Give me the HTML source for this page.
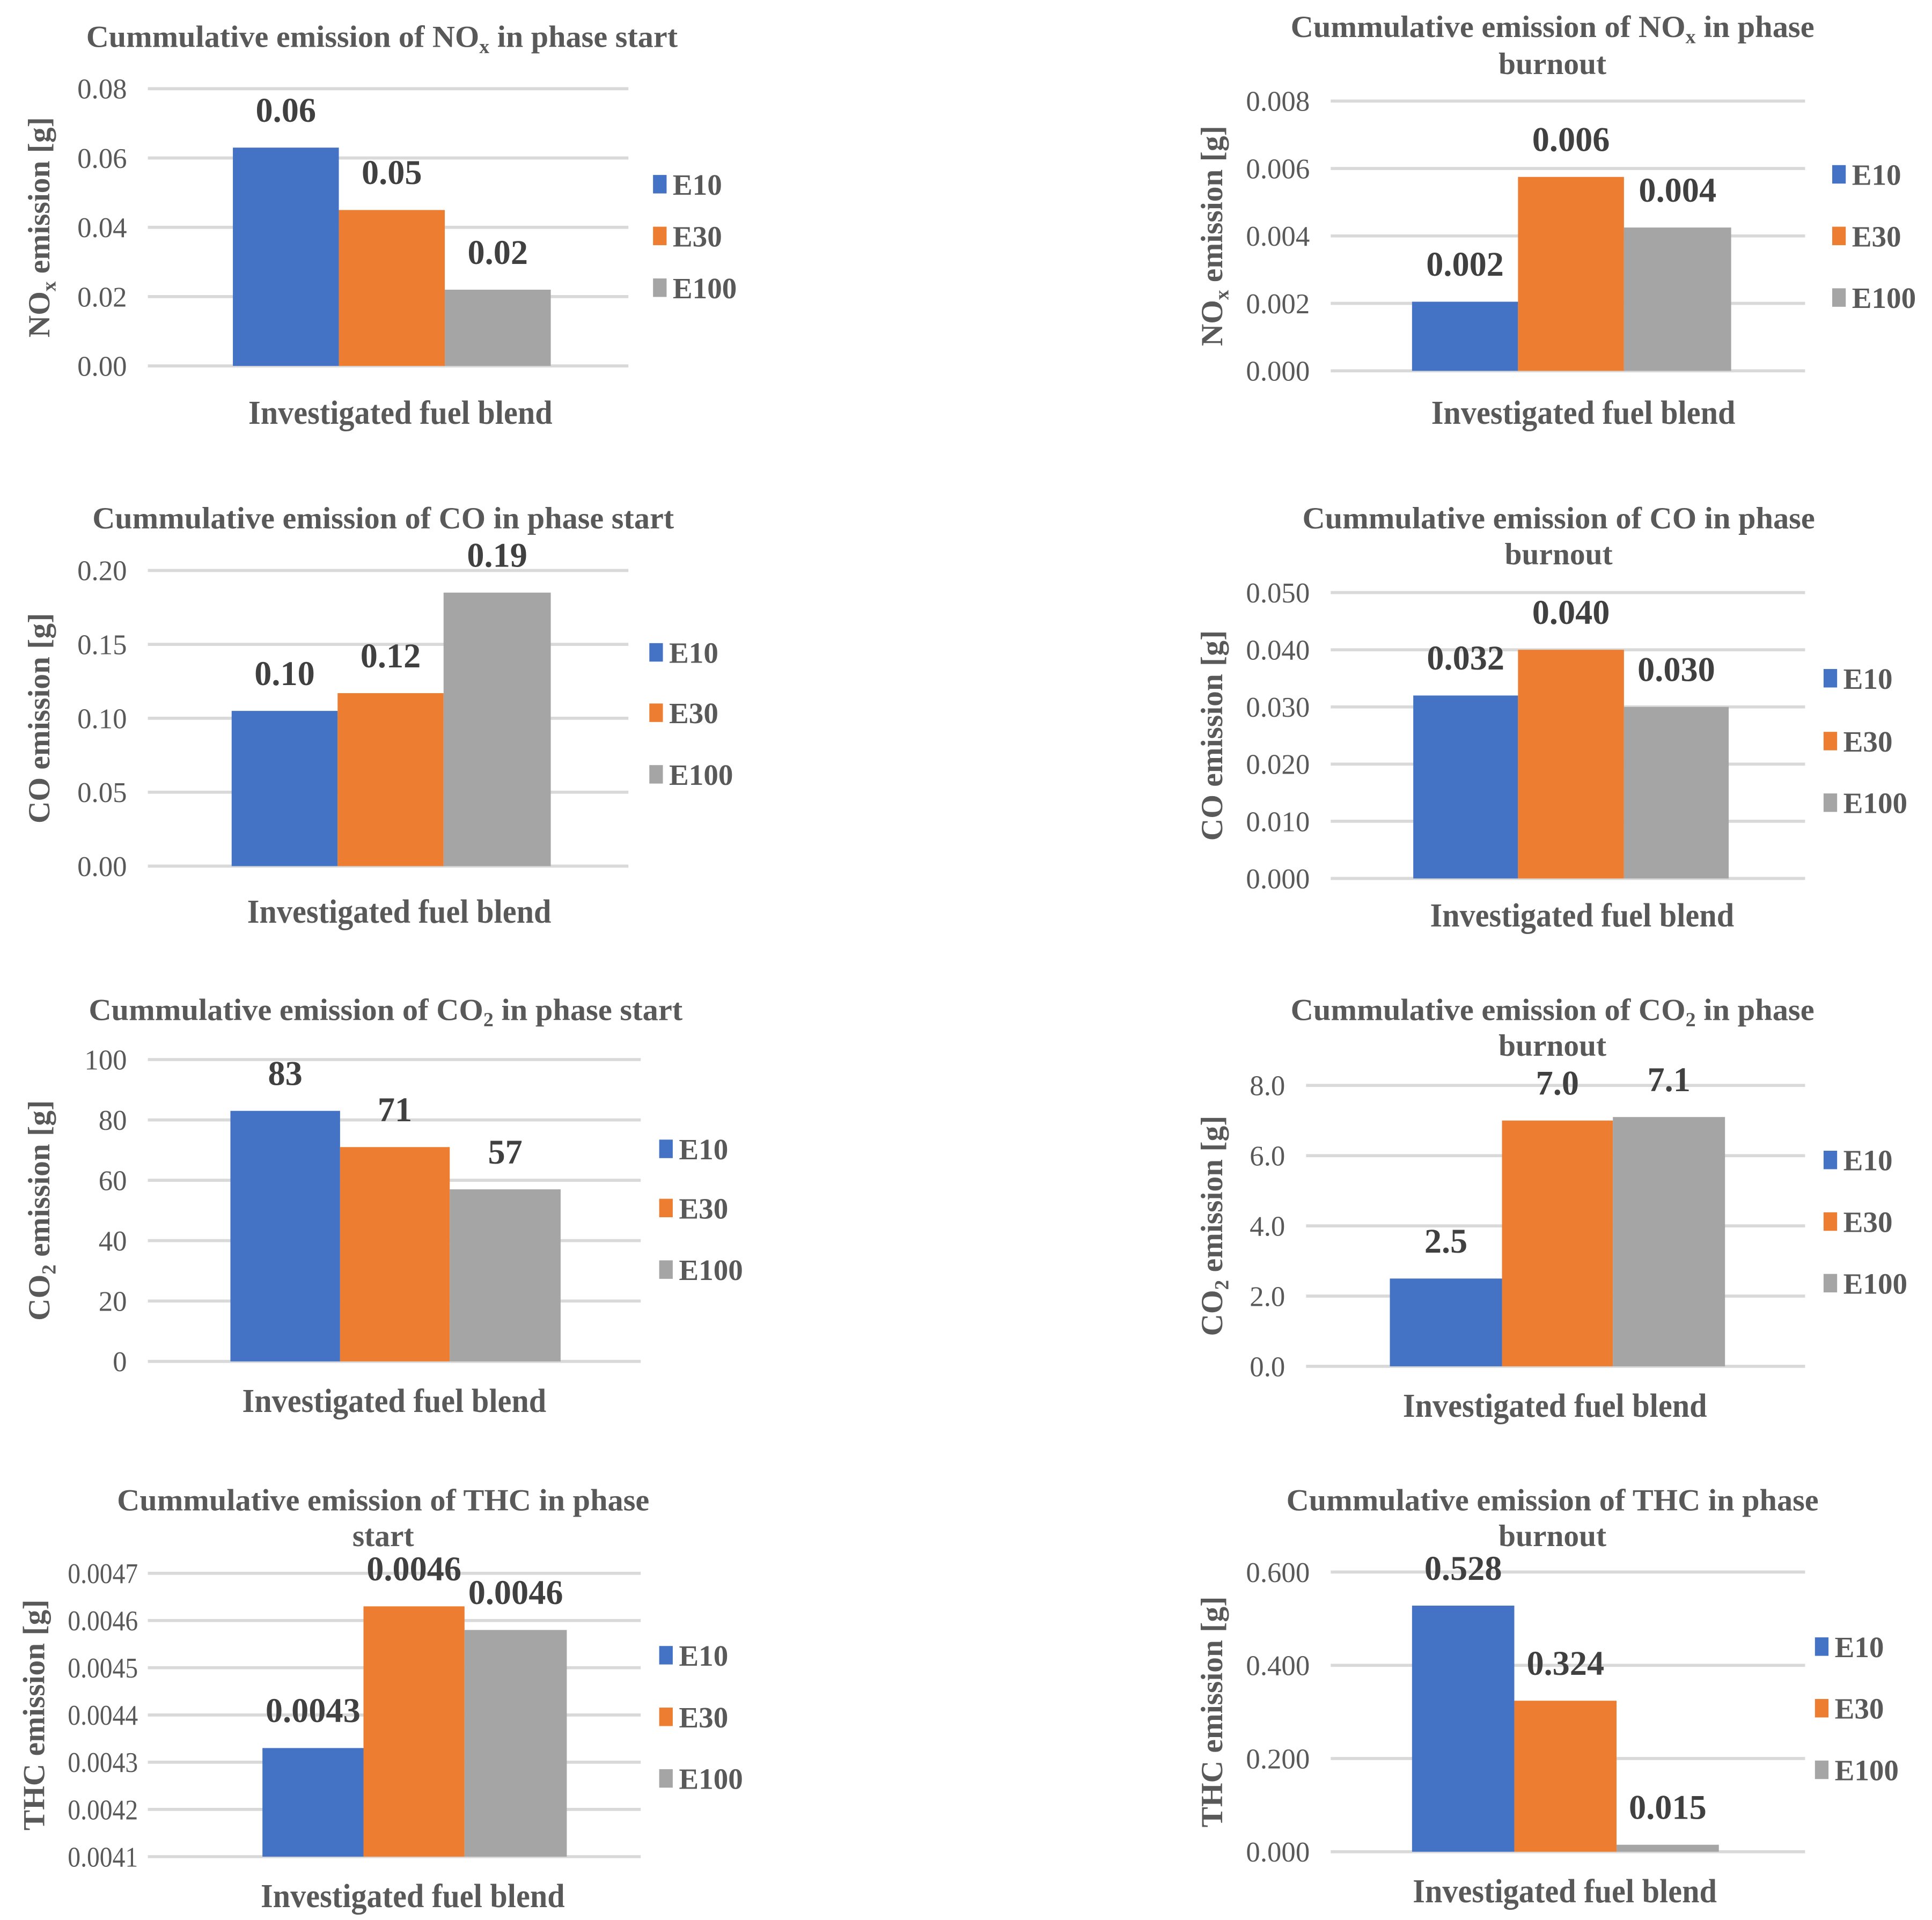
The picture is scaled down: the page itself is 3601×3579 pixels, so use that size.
<!DOCTYPE html>
<html><head><meta charset="utf-8"><style>
html,body{margin:0;padding:0;background:#fff;}
svg{display:block;}
</style></head><body>
<svg id="root" xmlns="http://www.w3.org/2000/svg" width="3601" height="3579" viewBox="0 0 1568 1558.4" font-family="'Liberation Serif', serif"></svg>
<script>
const series = ["E10","E30","E100"];
const colors = ["#4472C4","#ED7D31","#A5A5A5"];
const noxStartValues = [0.063,0.045,0.022];
const noxStartLabels = ["0.06","0.05","0.02"];
const noxStartTicks = ["0.00","0.02","0.04","0.06","0.08"];
const noxBurnValues = [0.00205,0.00575,0.00425];
const noxBurnLabels = ["0.002","0.006","0.004"];
const noxBurnTicks = ["0.000","0.002","0.004","0.006","0.008"];
const coStartValues = [0.105,0.117,0.185];
const coStartLabels = ["0.10","0.12","0.19"];
const coStartTicks = ["0.00","0.05","0.10","0.15","0.20"];
const coBurnValues = [0.032,0.040,0.030];
const coBurnLabels = ["0.032","0.040","0.030"];
const coBurnTicks = ["0.000","0.010","0.020","0.030","0.040","0.050"];
const co2StartValues = [83,71,57];
const co2StartLabels = ["83","71","57"];
const co2StartTicks = ["0","20","40","60","80","100"];
const co2BurnValues = [2.5,7.0,7.1];
const co2BurnLabels = ["2.5","7.0","7.1"];
const co2BurnTicks = ["0.0","2.0","4.0","6.0","8.0"];
const thcStartValues = [0.00433,0.00463,0.00458];
const thcStartLabels = ["0.0043","0.0046","0.0046"];
const thcStartTicks = ["0.0041","0.0042","0.0043","0.0044","0.0045","0.0046","0.0047"];
const thcBurnValues = [0.528,0.324,0.015];
const thcBurnLabels = ["0.528","0.324","0.015"];
const thcBurnTicks = ["0.000","0.200","0.400","0.600"];

const NS="http://www.w3.org/2000/svg";
const root=document.getElementById('root');
function mk(tag,attrs,parent,text){const e=document.createElementNS(NS,tag);for(const k in attrs)e.setAttribute(k,attrs[k]);if(text!==undefined)e.textContent=text;parent.appendChild(e);return e;}
function condense(t,f){const len=t.getComputedTextLength();t.setAttribute('textLength',len*f);t.setAttribute('lengthAdjust','spacingAndGlyphs');}

const charts=[
 {name:"nox-start",title:[["Cummulative emission of NO","x"," in phase start"]],tY:[30],tX:310,tW:480,gx0:120,gx1:510,yTop:72,yBot:297,bars:[189,275,361,447],vals:noxStartValues,labs:noxStartLabels,ticks:noxStartTicks,legX:530,legY:[149,191,233],xtY:335,xtX:325,ytX:32,yt:["NO","x"," emission [g]"]},
 {name:"nox-burnout",title:[["Cummulative emission of NO","x"," in phase"],["burnout"]],tY:[22,52],tX:1260,tW:425,gx0:1080,gx1:1465,yTop:82,yBot:301,bars:[1146,1232,1318,1405],vals:noxBurnValues,labs:noxBurnLabels,ticks:noxBurnTicks,legX:1487,legY:[141,191,241],xtY:335,xtX:1285,ytX:984,yt:["NO","x"," emission [g]"]},
 {name:"co-start",title:[["Cummulative emission of CO in phase start"]],tY:[421],tX:311,tW:472,gx0:120,gx1:510,yTop:463,yBot:703,bars:[188,274,360,447],vals:coStartValues,labs:coStartLabels,ticks:coStartTicks,legX:527,legY:[529,578,628],xtY:740,xtX:324,ytX:32,yt:["CO emission [g]"]},
 {name:"co-burnout",title:[["Cummulative emission of CO in phase"],["burnout"]],tY:[421,450],tX:1265,tW:416,gx0:1080,gx1:1465,yTop:481,yBot:713,bars:[1147,1232,1318,1403],vals:coBurnValues,labs:coBurnLabels,ticks:coBurnTicks,legX:1480,legY:[550,601,651],xtY:743,xtX:1284,ytX:984,yt:["CO emission [g]"]},
 {name:"co2-start",title:[["Cummulative emission of CO","2"," in phase start"]],tY:[820],tX:313,tW:482,gx0:120,gx1:520,yTop:860,yBot:1105,bars:[187,276,365,455],vals:co2StartValues,labs:co2StartLabels,ticks:co2StartTicks,legX:535,legY:[932,980,1030],xtY:1137,xtX:320,ytX:32,yt:["CO","2"," emission [g]"]},
 {name:"co2-burnout",title:[["Cummulative emission of CO","2"," in phase"],["burnout"]],tY:[820,849],tX:1260,tW:425,gx0:1060,gx1:1465,yTop:881,yBot:1109,bars:[1128,1219,1309,1400],vals:co2BurnValues,labs:co2BurnLabels,ticks:co2BurnTicks,legX:1480,legY:[941,991,1041],xtY:1141,xtX:1262,ytX:984,yt:["CO","2"," emission [g]"]},
 {name:"thc-start",title:[["Cummulative emission of THC in phase"],["start"]],tY:[1218,1247],tX:311,tW:432,gx0:120,gx1:520,yTop:1277,yBot:1507,bars:[213,295,377,460],vals:thcStartValues,labs:thcStartLabels,ticks:thcStartTicks,legX:535,legY:[1343,1393,1443],xtY:1539,xtX:335,ytX:28,yt:["THC emission [g]"],tickOff:8,tickW:57},
 {name:"thc-burnout",title:[["Cummulative emission of THC in phase"],["burnout"]],tY:[1218,1247],tX:1260,tW:432,gx0:1080,gx1:1465,yTop:1276,yBot:1503,bars:[1146,1229,1312,1395],vals:thcBurnValues,labs:thcBurnLabels,ticks:thcBurnTicks,legX:1473,legY:[1336,1386,1436],xtY:1535,xtX:1270,ytX:984,yt:["THC emission [g]"]}
];

function spans(t,parts){parts.forEach((p,i)=>{if(i===1&&parts.length===3){mk('tspan',{'font-size':'0.65em',dy:'5'},t,p);}else if(i===2){mk('tspan',{dy:'-5'},t,p);}else{t.appendChild(document.createTextNode(p));}});}
charts.forEach(c=>{
 const g=mk('g',{},root);
 
 
 const tmin=parseFloat(c.ticks[0]),tmax=parseFloat(c.ticks[c.ticks.length-1]);
 const y=v=>c.yBot-(v-tmin)/(tmax-tmin)*(c.yBot-c.yTop);
 c.title.forEach((ln,i)=>{
  const t=mk('text',{x:c.tX,y:c.tY[i]+8,'text-anchor':'middle','font-size':'25','font-weight':'bold',fill:'#595959'},g);
  
  
  spans(t,ln);
  if(i===0){t.setAttribute('textLength',c.tW);t.setAttribute('lengthAdjust','spacingAndGlyphs');}
 });
 c.ticks.forEach(tk=>{
  const v=parseFloat(tk),yy=y(v);
  const l=mk('line',{x1:c.gx0,x2:c.gx1,y1:yy,y2:yy,stroke:'#D9D9D9','stroke-width':'2.5'},g);
  
  
  const t=mk('text',{x:c.gx0-(c.tickOff||17),y:yy+8,'text-anchor':'end','font-size':'23',fill:'#595959'},g,tk);
  
  
  if(c.tickW){t.setAttribute('textLength',c.tickW);t.setAttribute('lengthAdjust','spacingAndGlyphs');}
 });
 c.vals.forEach((v,i)=>{
  const x0=c.bars[i],x1=c.bars[i+1];
  const r=mk('rect',{x:x0,y:y(v),width:x1-x0,height:c.yBot-y(v),fill:colors[i]},g);
  
  
  const t=mk('text',{x:(x0+x1)/2,y:y(v)-21,'text-anchor':'middle','font-size':'28','font-weight':'bold',fill:'#404040'},g,c.labs[i]);
  
  
  const s=mk('rect',{x:c.legX,y:c.legY[i]-7,width:11,height:15,fill:colors[i]},g);
  
  
  const lt=mk('text',{x:c.legX+16,y:c.legY[i]+9,'font-size':'24','font-weight':'bold',fill:'#595959'},g,series[i]);
  
  
 });
 const xt=mk('text',{x:c.xtX,y:c.xtY+9,'text-anchor':'middle','font-size':'27','font-weight':'bold',fill:'#595959'},g,'Investigated fuel blend');
 
 
 condense(xt,0.94);
 const cy=(c.yTop+c.yBot)/2;
 const yt=mk('text',{x:0,y:0,'text-anchor':'middle','font-size':'25','font-weight':'bold',fill:'#595959',transform:'translate('+(c.ytX+8)+','+cy+') rotate(-90)'},g);
 
 
 spans(yt,c.yt);
});
</script>
</body></html>
